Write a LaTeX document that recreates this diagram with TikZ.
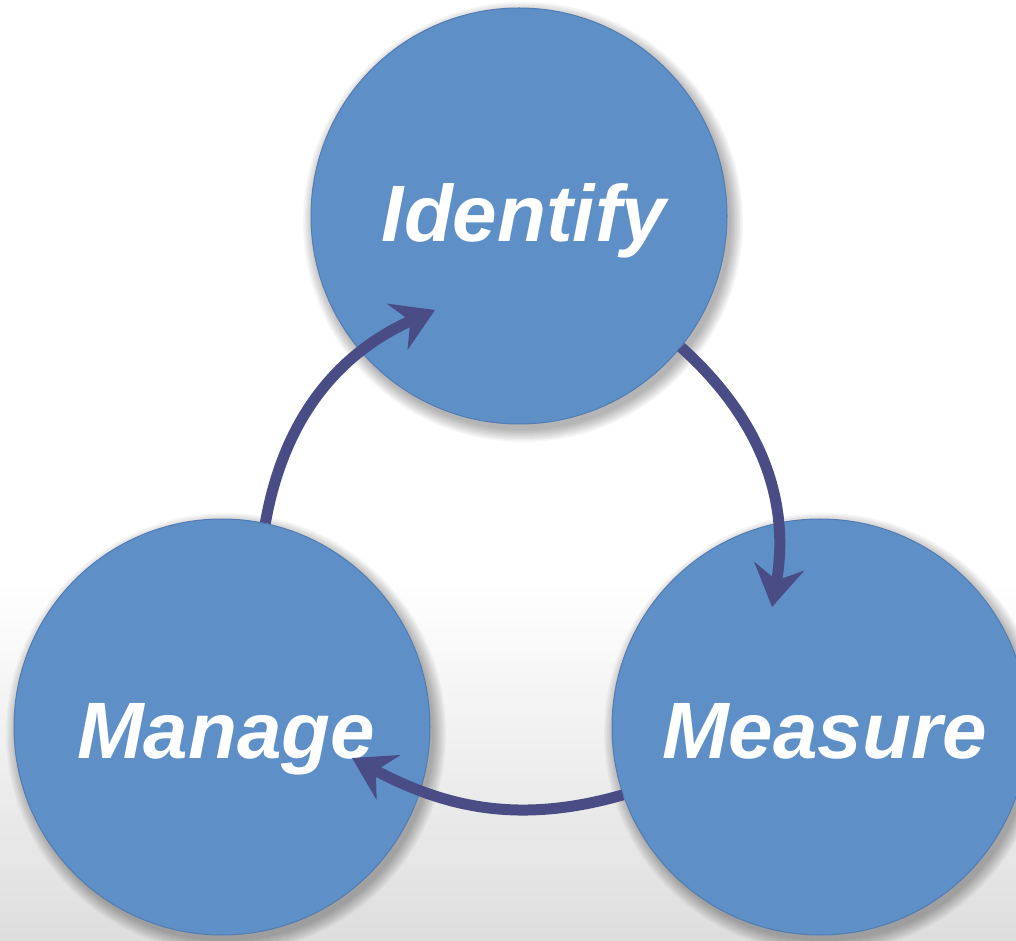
\documentclass[tikz,border=0pt]{standalone}
\usepackage{fontspec}
\setmainfont{Liberation Sans}
\usetikzlibrary{arrows.meta}
\definecolor{blobfill}{RGB}{94,143,199}
\definecolor{blobedge}{RGB}{82,124,178}
\definecolor{arrowcol}{RGB}{74,76,133}
\begin{document}
\begin{tikzpicture}[x=1pt,y=1pt,
  blob/.style={circle, fill=blobfill, draw=blobedge, line width=1pt,
    minimum size=416pt, inner sep=0pt, text=white,
    font=\fontsize{80}{90}\selectfont\bfseries\itshape, text depth=0pt},
  cyc/.style={draw=arrowcol, line width=11pt,
    -{Stealth[length=41pt,width=50pt,inset=14pt]}},
  blobshadow/.style={fill=black, opacity=0.035}
]
\useasboundingbox (0,0) rectangle (1016,940);
\clip (0,0) rectangle (1016,940);
\fill[white] (0,0) rectangle (1016,940);
\shade[top color=white, bottom color=black!13] (0,0) rectangle (1016,360);
% centres
\coordinate (cI) at (519,724);
\coordinate (cM) at (222,213);
\coordinate (cS) at (820,213);
% soft shadows
\foreach \c in {cI,cM,cS}{
  \foreach \k in {0,...,8}{
    \fill[blobshadow] ([shift={(4,-6)}]\c) circle[radius=208+1.5*\k];
  }
}
% circles
\node[blob, text height=52pt] (id) at (cI) {\hspace*{10pt}Identify};
\node[blob, text height=62pt] (man) at (cM) {\hspace*{8pt}Manage};
\node[blob, text height=62pt] (mea) at (cS) {\hspace*{9pt}Measure};
% arrow tips
\coordinate (t1) at (435,630);
\coordinate (t2) at (772,333);
\coordinate (t3) at (352,182);
% cycle arrows
\draw[cyc] (man.78) to[out=80,in=204] (t1);
\draw[cyc] (id.-39) to[out=-42,in=80] (t2);
\draw[cyc] (mea.199) to[out=196,in=-28] (t3);
\end{tikzpicture}
\end{document}
